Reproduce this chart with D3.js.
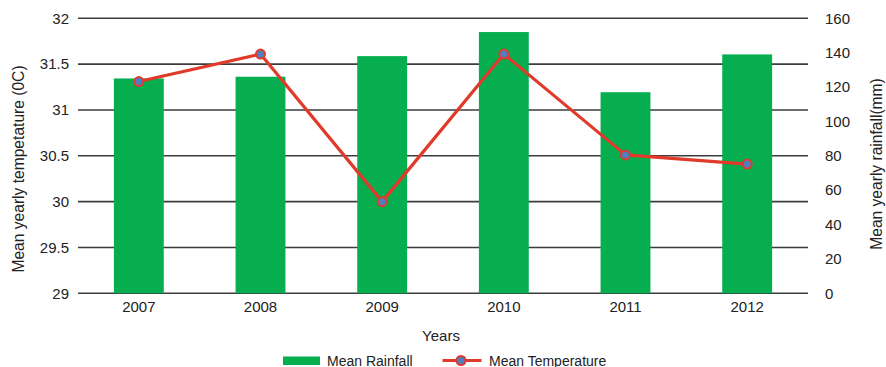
<!DOCTYPE html>
<html><head><meta charset="utf-8">
<script src="https://cdn.jsdelivr.net/npm/d3@7"></script>
<style>body{margin:0;background:#fff}svg text{font-family:"Liberation Sans",Arial,sans-serif;fill:#222}</style>
</head><body><svg id="c" width="886" height="367"></svg>
<script>
const years = ["2007","2008","2009","2010","2011","2012"];
const rainfall = [125, 126, 138, 152, 117, 139];
const temperature = [31.31, 31.61, 30.0, 31.61, 30.51, 30.41];
const tempTicks = [29, 29.5, 30, 30.5, 31, 31.5, 32];
const rainTicks = [0, 20, 40, 60, 80, 100, 120, 140, 160];

const svg = d3.select("#c");
const L = 78, R = 808, T = 18.3, B = 293.3;
const x = d3.scaleBand().domain(years).range([L, R]).paddingInner(0.59).paddingOuter(0.295);
const yT = d3.scaleLinear().domain([29, 32]).range([B, T]);
const yR = d3.scaleLinear().domain([0, 160]).range([B, T]);

// gridlines
svg.append("g").selectAll("line").data(tempTicks).join("line")
  .attr("x1", L).attr("x2", R).attr("y1", d => yT(d)).attr("y2", d => yT(d))
  .attr("stroke", "#3c3c3c").attr("stroke-width", 1.6);

// bars
svg.append("g").selectAll("rect").data(years).join("rect")
  .attr("x", d => x(d)).attr("width", x.bandwidth())
  .attr("y", (d, i) => yR(rainfall[i])).attr("height", (d, i) => B - yR(rainfall[i]))
  .attr("fill", "#06ae50");

// left axis
const la = svg.append("g").attr("transform", `translate(${L},0)`)
  .call(d3.axisLeft(yT).tickValues(tempTicks).tickSize(0).tickPadding(9).tickFormat(d => d3.format("")(d)));
la.select(".domain").remove();
la.selectAll("text").style("font-size", "15px").attr("fill", "#222");

// right axis
const ra = svg.append("g").attr("transform", `translate(${R},0)`)
  .call(d3.axisRight(yR).tickValues(rainTicks).tickSize(0).tickPadding(17));
ra.select(".domain").remove();
ra.selectAll("text").style("font-size", "15px").attr("fill", "#222");

// x axis
const xa = svg.append("g").attr("transform", `translate(0,${B})`)
  .call(d3.axisBottom(x).tickSize(0).tickPadding(8));
xa.select(".domain").remove();
xa.selectAll("text").style("font-size", "15px").attr("fill", "#222");

// line
const line = d3.line().x((d, i) => x(years[i]) + x.bandwidth() / 2).y(d => yT(d));
svg.append("path").datum(temperature).attr("d", line)
  .attr("fill", "none").attr("stroke", "#e03a2a").attr("stroke-width", 3.2).attr("stroke-linejoin", "round");
svg.append("g").selectAll("circle").data(temperature).join("circle")
  .attr("cx", (d, i) => x(years[i]) + x.bandwidth() / 2).attr("cy", d => yT(d))
  .attr("r", 4.5).attr("fill", "#4f7fc0").attr("stroke", "#e03a2a").attr("stroke-width", 2);

// axis titles
svg.append("text").attr("transform", "translate(24,169) rotate(-90)").attr("text-anchor", "middle")
  .style("font-size", "15.6px").text("Mean yearly tempetature (0C)");
svg.append("text").attr("transform", "translate(882,164) rotate(-90)").attr("text-anchor", "middle")
  .style("font-size", "15.6px").text("Mean yearly rainfall(mm)");
svg.append("text").attr("x", 441).attr("y", 341).attr("text-anchor", "middle")
  .style("font-size", "15px").text("Years");

// legend
const lg = svg.append("g");
lg.append("rect").attr("x", 283).attr("y", 356.5).attr("width", 37).attr("height", 8.5).attr("fill", "#06ae50");
lg.append("text").attr("x", 327).attr("y", 365.5).style("font-size", "14px").text("Mean Rainfall");
lg.append("line").attr("x1", 442.5).attr("x2", 481.5).attr("y1", 360.5).attr("y2", 360.5)
  .attr("stroke", "#e03a2a").attr("stroke-width", 3.2);
lg.append("circle").attr("cx", 461).attr("cy", 360.5).attr("r", 4.5)
  .attr("fill", "#4f7fc0").attr("stroke", "#e03a2a").attr("stroke-width", 2);
lg.append("text").attr("x", 489).attr("y", 365.5).style("font-size", "14px").text("Mean Temperature");
</script></body></html>
